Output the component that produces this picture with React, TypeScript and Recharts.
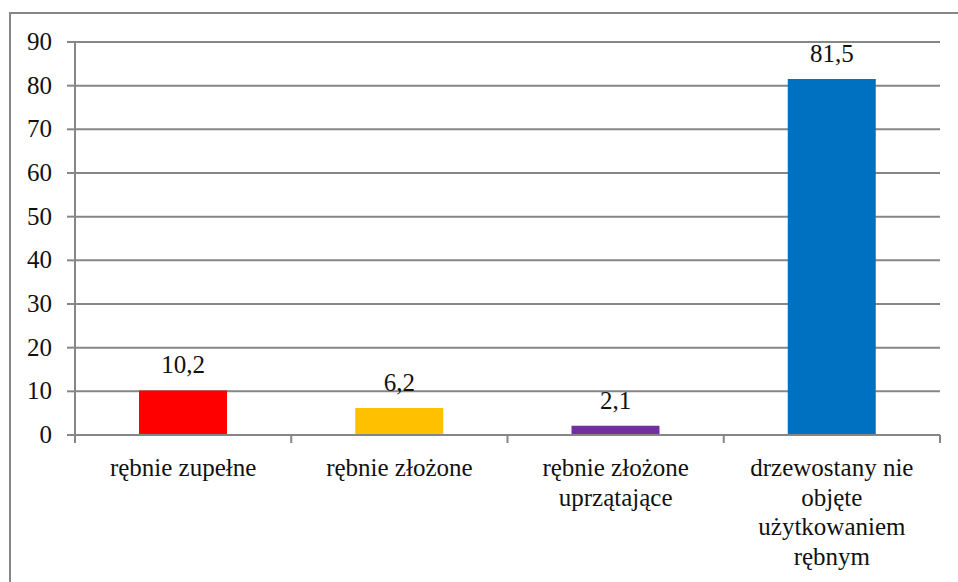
import React from 'react';
import { BarChart, Bar, XAxis, YAxis, CartesianGrid, LabelList, Cell } from 'recharts';

const categories = [
  'rębnie zupełne',
  'rębnie złożone',
  'rębnie złożone\nuprzątające',
  'drzewostany nie\nobjęte\nużytkowaniem\nrębnym',
];
const values = [10.2, 6.2, 2.1, 81.5];
const colors = ['#FF0000', '#FFC000', '#7030A0', '#0070C0'];
const yTicks = [0, 10, 20, 30, 40, 50, 60, 70, 80, 90];

const data = categories.map((name, i) => ({ name, value: values[i] }));

const FONT = 'Liberation Serif, Tinos, Times New Roman, serif';
const FS = 25;
const GRID = '#868686';
const TXT = '#111';

const CategoryTick = (props: any) => {
  const { x, y, payload, index } = props;
  const half = payload && payload.offset ? payload.offset : 865 / 8;
  const lines = String(payload.value).split('\n');
  return (
    <g>
      <line x1={x - half} x2={x - half} y1={y} y2={y + 8} stroke={GRID} strokeWidth={2} />
      {index === categories.length - 1 && (
        <line x1={x + half} x2={x + half} y1={y} y2={y + 8} stroke={GRID} strokeWidth={2} />
      )}
      <text textAnchor="middle" fontFamily={FONT} fontSize={FS} fill={TXT}>
        {lines.map((l, i) => (
          <tspan key={i} x={x} y={y + 41 + i * 29.5}>
            {l}
          </tspan>
        ))}
      </text>
    </g>
  );
};

const YTick = (props: any) => {
  const { x, y, payload } = props;
  return (
    <text x={x} y={y} dy={8} textAnchor="end" fontFamily={FONT} fontSize={FS} fill={TXT}>
      {payload.value}
    </text>
  );
};

const BarLabel = (props: any) => {
  const { x, y, width, value } = props;
  return (
    <text x={x + width / 2} y={y - 17} textAnchor="middle" fontFamily={FONT} fontSize={FS} fill={TXT}>
      {Number(value).toFixed(1).replace('.', ',')}
    </text>
  );
};

export default function App() {
  return (
    <div style={{ position: 'absolute', left: 0, top: 0, width: 958, height: 582, overflow: 'hidden', background: '#fff', fontFamily: FONT }}>
      <div
        style={{
          position: 'absolute',
          left: 9,
          top: 12,
          width: 1000,
          height: 700,
          borderLeft: `2px solid ${GRID}`,
          borderTop: `2px solid ${GRID}`,
          boxSizing: 'border-box',
        }}
      />
      <div style={{ position: 'absolute', left: 0, top: 0 }}>
        <BarChart width={958} height={582} data={data} margin={{ top: 42, right: 18, bottom: 7, left: 15 }} barSize={88}>
          <CartesianGrid vertical={false} stroke={GRID} strokeWidth={2} />
          <XAxis
            dataKey="name"
            interval={0}
            height={140}
            axisLine={{ stroke: GRID, strokeWidth: 2 }}
            tickLine={false}
            tickSize={0}
            tickMargin={0}
            tick={<CategoryTick />}
          />
          <YAxis
            domain={[0, 90]}
            ticks={yTicks}
            width={60}
            interval={0}
            axisLine={{ stroke: GRID, strokeWidth: 2 }}
            tickLine={{ stroke: GRID, strokeWidth: 2 }}
            tickSize={8}
            tickMargin={15}
            tick={<YTick />}
          />
          <Bar dataKey="value" isAnimationActive={false}>
            {data.map((d, i) => (
              <Cell key={i} fill={colors[i]} />
            ))}
            <LabelList dataKey="value" content={<BarLabel />} />
          </Bar>
        </BarChart>
      </div>
    </div>
  );
}
